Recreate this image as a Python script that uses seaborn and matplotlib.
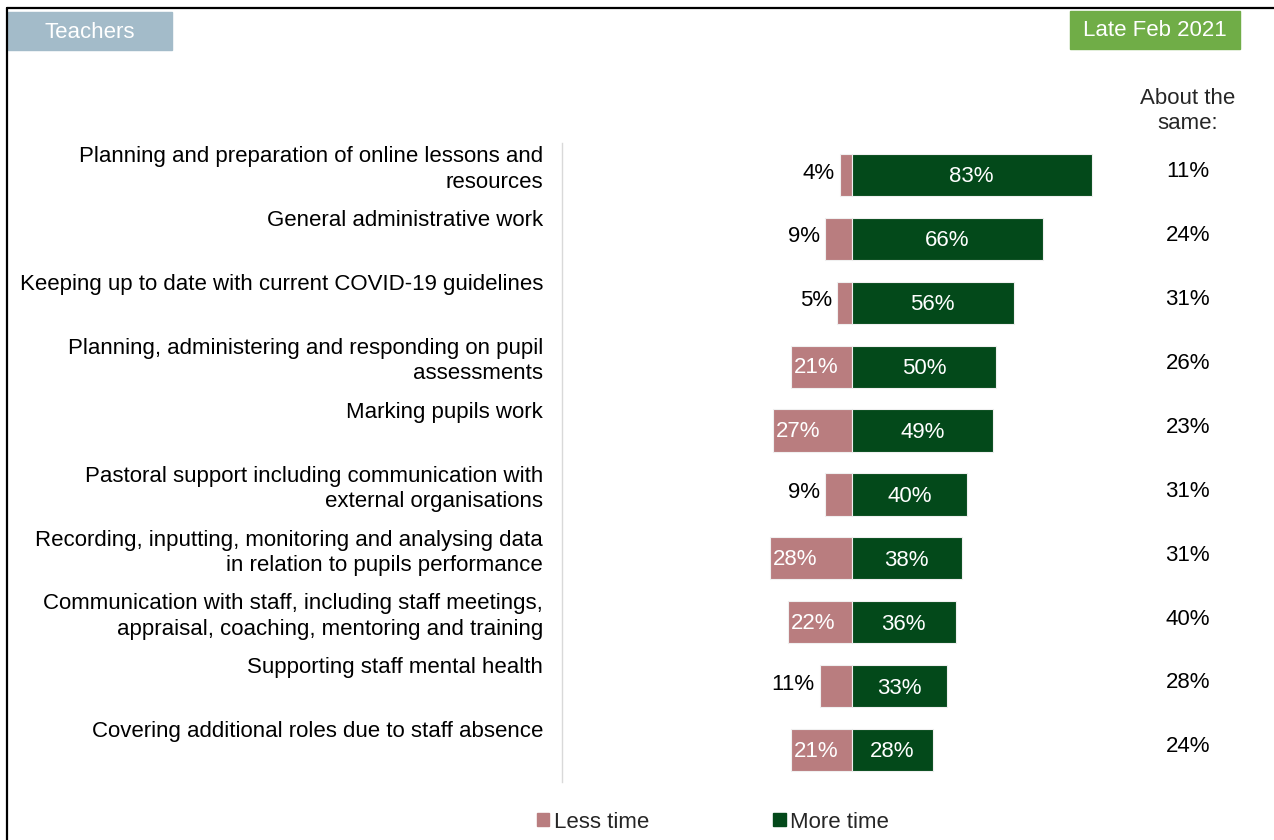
import numpy as np
import pandas as pd
import seaborn as sns
import matplotlib.pyplot as plt
from matplotlib.patches import Rectangle, Patch
from matplotlib.lines import Line2D
import matplotlib.transforms as mtransforms

categories = [
    'Planning and preparation of online lessons and\nresources',
    'General administrative work',
    'Keeping up to date with current COVID-19 guidelines',
    'Planning, administering and responding on pupil\nassessments',
    'Marking pupils work',
    'Pastoral support including communication with\nexternal organisations',
    'Recording, inputting, monitoring and analysing data\nin relation to pupils performance',
    'Communication with staff, including staff meetings,\nappraisal, coaching, mentoring and training',
    'Supporting staff mental health',
    'Covering additional roles due to staff absence',
]
less_time = [4, 9, 5, 21, 27, 9, 28, 22, 11, 21]
more_time = [83, 66, 56, 50, 49, 40, 38, 36, 33, 28]
about_same = [11, 24, 31, 26, 23, 31, 31, 40, 28, 24]

pink = '#B97D7F'
green = '#03491A'

sns.set_style('white')
plt.rcParams['font.family'] = ['Liberation Sans', 'DejaVu Sans']

df = pd.DataFrame({'category': categories, 'less': less_time, 'more': more_time})
df['less_neg'] = -df['less']

fig = plt.figure(figsize=(12.74, 8.4), dpi=100)
ax = fig.add_axes([562 / 1274, 1 - 782 / 840, 579 / 1274, 639 / 840])

sns.barplot(data=df, x='less_neg', y='category', orient='h', color=pink,
            width=0.66, edgecolor='#f0f0f0', linewidth=0.8, saturation=1, ax=ax)
sns.barplot(data=df, x='more', y='category', orient='h', color=green,
            width=0.66, edgecolor='#f0f0f0', linewidth=0.8, saturation=1, ax=ax)

ax.set_xlim(-100, 100)
ax.set_ylim(len(categories) - 0.5, -0.5)
ax.set_xlabel('')
ax.set_ylabel('')
ax.set_xticks([])
ax.set_yticks([])
for s in ['top', 'right', 'bottom']:
    ax.spines[s].set_visible(False)
ax.spines['left'].set_color('#D9D9D9')
ax.spines['left'].set_linewidth(1)

trans = mtransforms.blended_transform_factory(ax.transAxes, ax.transData)
fs = 16
for i, cat in enumerate(categories):
    ax.text(-0.033, i - 0.45, cat, transform=trans, ha='right', va='top',
            fontsize=fs, color='black', linespacing=1.28)
    # less time labels
    lv = less_time[i]
    if lv >= 20:
        ax.text(-lv + 1.0, i + 0.02, f'{lv}%', ha='left', va='center', fontsize=fs, color='white')
    else:
        ax.text(-lv - 1.8, i - 0.03, f'{lv}%', ha='right', va='center', fontsize=fs, color='black')
    mv = more_time[i]
    ax.text(mv / 2, i + 0.03, f'{mv}%', ha='center', va='center', fontsize=fs, color='white')
    # about the same
    ax.text(1.081, i - 0.05, f'{about_same[i]}%', transform=trans, ha='center',
            va='center', fontsize=fs, color='black')

fig.text(1188 / 1274, 1 - 111 / 840, 'About the\nsame:', ha='center', va='center',
         fontsize=fs, linespacing=1.2)

# header boxes
fig.patches.append(Rectangle((8 / 1274, 1 - 50 / 840), 164 / 1274, 38 / 840,
                             transform=fig.transFigure, color='#A3BBC9', zorder=1))
fig.text(90 / 1274, 1 - 32 / 840, 'Teachers', ha='center', va='center',
         fontsize=fs, color='white')
fig.patches.append(Rectangle((1070 / 1274, 1 - 49 / 840), 170 / 1274, 38 / 840,
                             transform=fig.transFigure, color='#70AD47', zorder=1))
fig.text(1155 / 1274, 1 - 31 / 840, 'Late Feb 2021', ha='center', va='center',
         fontsize=fs, color='white')

# frame
fig.add_artist(Line2D([7 / 1274, 1], [1 - 8 / 840, 1 - 8 / 840], transform=fig.transFigure,
                      color='black', linewidth=1.6))
fig.add_artist(Line2D([7 / 1274, 7 / 1274], [0, 1 - 8 / 840], transform=fig.transFigure,
                      color='black', linewidth=1.6))

handles = [Patch(color=pink, label='Less time'), Patch(color=green, label='More time')]
fig.legend(handles=handles, loc='center', bbox_to_anchor=(713 / 1274, 1 - 822 / 840),
           ncol=2, frameon=False, fontsize=fs, handlelength=0.55, handleheight=0.55,
           handletextpad=0.2, columnspacing=5.6)

fig.savefig('out.png', dpi=100)
